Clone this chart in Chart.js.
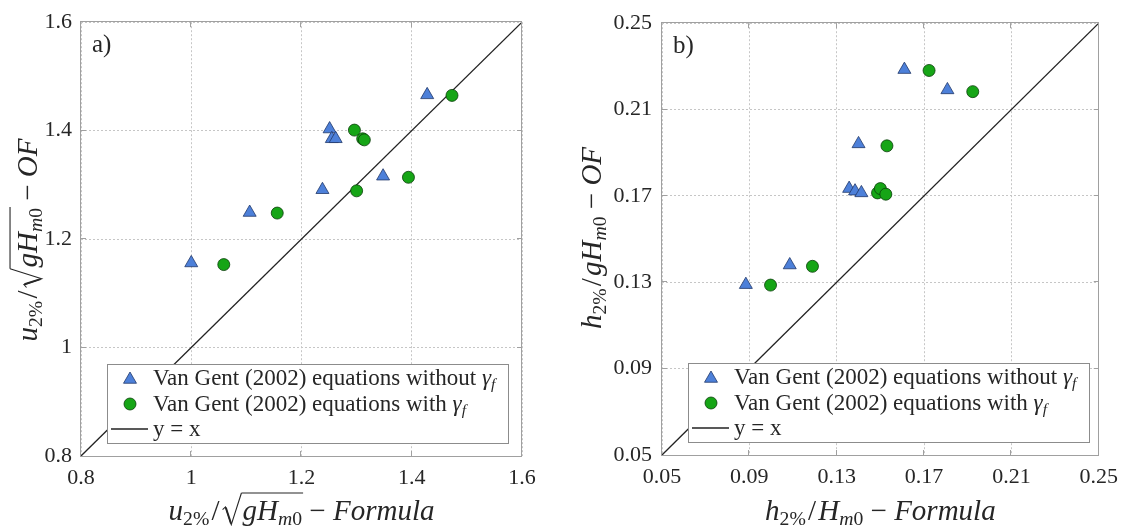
<!DOCTYPE html>
<html>
<head>
<meta charset="utf-8">
<script src="https://cdn.jsdelivr.net/npm/chart.js@4.4.1/dist/chart.umd.min.js"></script>
<style>
html, body { margin: 0; padding: 0; background: #fff; }
#wrap { position: relative; width: 1127px; height: 526px; overflow: hidden; }
canvas { position: absolute; top: 0; }
#ca { left: 0; }
#cb { left: 563px; }
</style>
</head>
<body>
<div id="wrap">
  <canvas id="ca" width="563" height="526"></canvas>
  <canvas id="cb" width="564" height="526"></canvas>
</div>
<script>
// panel a) run-up velocity
const triXA = [1.000, 1.106, 1.238, 1.251, 1.255, 1.262, 1.348, 1.428];
const triYA = [1.156, 1.249, 1.291, 1.403, 1.385, 1.385, 1.316, 1.466];
const cirXA = [1.059, 1.156, 1.300, 1.296, 1.311, 1.314, 1.394, 1.473];
const cirYA = [1.153, 1.248, 1.289, 1.401, 1.385, 1.383, 1.314, 1.465];
const diagA = [0.8, 1.6];
const ticksA = [0.8, 1.0, 1.2, 1.4, 1.6];
const tickLabelsA = ['0.8', '1', '1.2', '1.4', '1.6'];

// panel b) layer thickness
const triXB = [0.0884, 0.1085, 0.1357, 0.1384, 0.1413, 0.1400, 0.1610, 0.1807];
const triYB = [0.1289, 0.1380, 0.1734, 0.1722, 0.1714, 0.1941, 0.2285, 0.2191];
const cirXB = [0.0997, 0.1189, 0.1487, 0.1500, 0.1525, 0.1530, 0.1723, 0.1923];
const cirYB = [0.1287, 0.1374, 0.1714, 0.1734, 0.1708, 0.1932, 0.2281, 0.2183];
const diagB = [0.05, 0.25];
const ticksB = [0.05, 0.09, 0.13, 0.17, 0.21, 0.25];
const tickLabelsB = ['0.05', '0.09', '0.13', '0.17', '0.21', '0.25'];

const seriesNames = ['Van Gent (2002) equations without γf', 'Van Gent (2002) equations with γf', 'y = x'];

// axis titles as runs: i = italic, s = subscript, o = under the root bar, rad = root sign
const xTitleA = [{t: 'u', i: 1}, {t: '2%', s: 1}, {t: '/', pad: 0.15}, {rad: 1}, {t: 'gH', i: 1, o: 1}, {t: 'm', i: 1, s: 1, o: 1}, {t: '0', s: 1, o: 1}, {t: '−', pad: 0.5}, {t: 'Formula', i: 1}];
const yTitleA = [{t: 'u', i: 1}, {t: '2%', s: 1}, {t: '/', pad: 0.15}, {rad: 1}, {t: 'gH', i: 1, o: 1}, {t: 'm', i: 1, s: 1, o: 1}, {t: '0', s: 1, o: 1}, {t: '−', pad: 0.5}, {t: 'OF', i: 1}];
const xTitleB = [{t: 'h', i: 1}, {t: '2%', s: 1}, {t: '/', pad: 0.15}, {t: 'H', i: 1}, {t: 'm', i: 1, s: 1}, {t: '0', s: 1}, {t: '−', pad: 0.5}, {t: 'Formula', i: 1}];
const yTitleB = [{t: 'h', i: 1}, {t: '2%', s: 1}, {t: '/', pad: 0.15}, {t: 'gH', i: 1}, {t: 'm', i: 1, s: 1}, {t: '0', s: 1}, {t: '−', pad: 0.5}, {t: 'OF', i: 1}];

const SERIF = '"Liberation Serif", "Times New Roman", serif';
const INK = '#262626';
const FRAME = '#a0a0a0';
const TRI_FILL = '#4d80d9', TRI_EDGE = '#22386a';
const CIR_FILL = '#16a516', CIR_EDGE = '#0a3d0a';

function pts(xs, ys) {
    return xs.map((x, i) => ({x: x, y: ys[i]}))
}

function fontOf(run, size) {
    const s = run.s ? size * 0.68 : size;
    return (run.i ? 'italic ' : '') + s.toFixed(1) + 'px ' + SERIF;
}

function runWidth(ctx, run, size) {
    if (run.rad) return size * 0.72;
    ctx.font = fontOf(run, size);
    return ctx.measureText(run.t).width + (run.pad || 0) * size;
}

function drawRich(ctx, runs, x0, y0, size, angle, align) {
    ctx.save();
    ctx.translate(x0, y0);
    ctx.rotate(angle || 0);
    const widths = runs.map(r => runWidth(ctx, r, size));
    const total = widths.reduce((a, b) => a + b, 0);
    let x = align === 'left' ? 0 : -total / 2;
    let barFrom = null, barTo = null;
    ctx.fillStyle = INK;
    ctx.strokeStyle = INK;
    ctx.textAlign = 'left';
    ctx.textBaseline = 'alphabetic';
    runs.forEach((r, k) => {
        if (r.rad) {
            ctx.lineWidth = 1.1;
            ctx.beginPath();
            ctx.moveTo(x + 0.03 * size, -0.36 * size);
            ctx.lineTo(x + 0.13 * size, -0.45 * size);
            ctx.lineTo(x + 0.33 * size, 0.16 * size);
            ctx.lineTo(x + 0.68 * size, -0.93 * size);
            ctx.stroke();
            ctx.lineWidth = 2;
            ctx.beginPath();
            ctx.moveTo(x + 0.14 * size, -0.43 * size);
            ctx.lineTo(x + 0.32 * size, 0.12 * size);
            ctx.stroke();
            barFrom = x + 0.68 * size;
        } else {
            ctx.font = fontOf(r, size);
            ctx.fillText(r.t, x + (r.pad || 0) * size / 2, r.s ? size * 0.17 : 0);
            if (r.o) barTo = x + widths[k];
        }
        x += widths[k];
    });
    if (barFrom !== null && barTo !== null) {
        ctx.lineWidth = 1.1;
        ctx.beginPath();
        ctx.moveTo(barFrom, -0.93 * size);
        ctx.lineTo(barTo + 1, -0.93 * size);
        ctx.stroke();
    }
    ctx.restore();
}

function triangle(ctx, x, y, r) {
    ctx.beginPath();
    for (let k = 0; k < 3; k++) {
        const a = k * 2 * Math.PI / 3;
        ctx.lineTo(x + Math.sin(a) * r, y - Math.cos(a) * r);
    }
    ctx.closePath();
}

function legendRuns(name) {
    // trailing "γf" is gamma with subscript f
    if (name.endsWith('γf')) {
        return [{t: name.slice(0, -2)}, {t: 'γ', i: 1}, {t: 'f', i: 1, s: 1}];
    }
    return [{t: name}];
}

const panelPlugin = {
    id: 'panel',
    afterDraw(chart, args, opts) {
        const ctx = chart.ctx;
        const a = chart.chartArea;
        const sx = chart.scales.x, sy = chart.scales.y;

        // box and inward ticks
        ctx.save();
        ctx.strokeStyle = FRAME;
        ctx.lineWidth = 1;
        ctx.strokeRect(Math.round(a.left) - 0.5, Math.round(a.top) - 0.5, Math.round(a.right - a.left), Math.round(a.bottom - a.top) + 1);
        ctx.beginPath();
        opts.ticks.slice(1, -1).forEach(v => {
            const px = Math.round(sx.getPixelForValue(v)) - 0.5;
            ctx.moveTo(px, a.bottom); ctx.lineTo(px, a.bottom - 5);
            ctx.moveTo(px, a.top); ctx.lineTo(px, a.top + 5);
            const py = Math.round(sy.getPixelForValue(v)) - 0.5;
            ctx.moveTo(a.left, py); ctx.lineTo(a.left + 5, py);
            ctx.moveTo(a.right, py); ctx.lineTo(a.right - 5, py);
        });
        ctx.stroke();
        ctx.restore();

        // panel letter
        ctx.save();
        ctx.fillStyle = INK;
        ctx.font = '25px ' + SERIF;
        ctx.textBaseline = 'alphabetic';
        ctx.fillText(opts.letter, a.left + 11, a.top + 30);
        ctx.restore();

        // axis titles
        drawRich(ctx, opts.xTitle, (a.left + a.right) / 2, opts.xTitleY, 29, 0);
        drawRich(ctx, opts.yTitle, opts.yTitleX, opts.yTitleMid, 29, -Math.PI / 2);

        // legend
        const L = a.left + 26, T = a.bottom - 92, W = 401, H = 79;
        ctx.save();
        ctx.fillStyle = '#fff';
        ctx.fillRect(L, T, W, H);
        ctx.strokeStyle = '#8c8c8c';
        ctx.lineWidth = 1;
        ctx.strokeRect(Math.round(L) + 0.5, Math.round(T) + 0.5, W, H);
        const rows = [T + 14, T + 40, T + 65];
        const mx = L + 23;
        ctx.lineWidth = 0.8;
        ctx.fillStyle = TRI_FILL; ctx.strokeStyle = TRI_EDGE;
        triangle(ctx, mx, rows[0] + 1.5, 7.5);
        ctx.fill(); ctx.stroke();
        ctx.fillStyle = CIR_FILL; ctx.strokeStyle = CIR_EDGE;
        ctx.beginPath(); ctx.arc(mx, rows[1], 6, 0, 2 * Math.PI);
        ctx.fill(); ctx.stroke();
        ctx.strokeStyle = '#222'; ctx.lineWidth = 1.3;
        ctx.beginPath(); ctx.moveTo(L + 4, rows[2]); ctx.lineTo(L + 41, rows[2]); ctx.stroke();
        ctx.restore();
        seriesNames.forEach((name, k) => {
            drawRich(ctx, legendRuns(name), L + 46, rows[k] + 7, 23, 0, 'left');
        });
    }
};

function axis(ticks, labels, horizontal, size, pad) {
    return {
        type: 'linear',
        min: ticks[0],
        max: ticks[ticks.length - 1],
        afterBuildTicks: ax => { ax.ticks = ticks.map(v => ({value: v})); },
        afterFit: ax => {
            if (horizontal) ax.height = size; else ax.width = size;
        },
        ticks: {
            callback: (v, i) => labels[i],
            font: {family: SERIF, size: 22},
            color: INK,
            padding: pad,
            autoSkip: false,
            maxRotation: 0
        },
        grid: {color: '#c6c6c6', lineWidth: 1, drawTicks: false},
        border: {display: false, dash: [2, 2]}
    };
}

function makePanel(id, d) {
    const ctx = document.getElementById(id).getContext('2d');
    return new Chart(ctx, {
        type: 'scatter',
        data: {
            datasets: [{
                label: seriesNames[0],
                data: pts(d.triX, d.triY),
                pointStyle: 'triangle',
                pointRadius: 7.5,
                pointBackgroundColor: TRI_FILL,
                pointBorderColor: TRI_EDGE,
                pointBorderWidth: 0.8,
                order: 2
            }, {
                label: seriesNames[1],
                data: pts(d.cirX, d.cirY),
                pointStyle: 'circle',
                pointRadius: 6,
                pointBackgroundColor: CIR_FILL,
                pointBorderColor: CIR_EDGE,
                pointBorderWidth: 0.8,
                order: 1
            }, {
                label: seriesNames[2],
                data: pts(d.diag, d.diag),
                showLine: true,
                borderColor: '#222',
                borderWidth: 1.3,
                pointRadius: 0,
                order: 3
            }]
        },
        options: {
            responsive: false,
            animation: false,
            events: [],
            layout: {padding: {top: 16, right: d.padRight, left: 0, bottom: 0}},
            plugins: {
                legend: {display: false},
                tooltip: {enabled: false},
                panel: d.panel
            },
            scales: {
                x: axis(d.ticks, d.labels, true, d.xAxisH, 9),
                y: axis(d.ticks, d.labels, false, d.yAxisW, d.yPad)
            }
        },
        plugins: [panelPlugin]
    });
}

makePanel('ca', {
    triX: triXA, triY: triYA, cirX: cirXA, cirY: cirYA, diag: diagA,
    ticks: ticksA, labels: tickLabelsA,
    padRight: 41, xAxisH: 70, yAxisW: 81, yPad: 9,
    panel: {letter: 'a)', ticks: ticksA, xTitle: xTitleA, yTitle: yTitleA, xTitleY: 520, yTitleX: 37, yTitleMid: 240}
});

makePanel('cb', {
    triX: triXB, triY: triYB, cirX: cirXB, cirY: cirYB, diag: diagB,
    ticks: ticksB, labels: tickLabelsB,
    padRight: 24, xAxisH: 71, yAxisW: 99, yPad: 10,
    panel: {letter: 'b)', ticks: ticksB, xTitle: xTitleB, yTitle: yTitleB, xTitleY: 520, yTitleX: 38, yTitleMid: 238}
});
</script>
</body>
</html>
